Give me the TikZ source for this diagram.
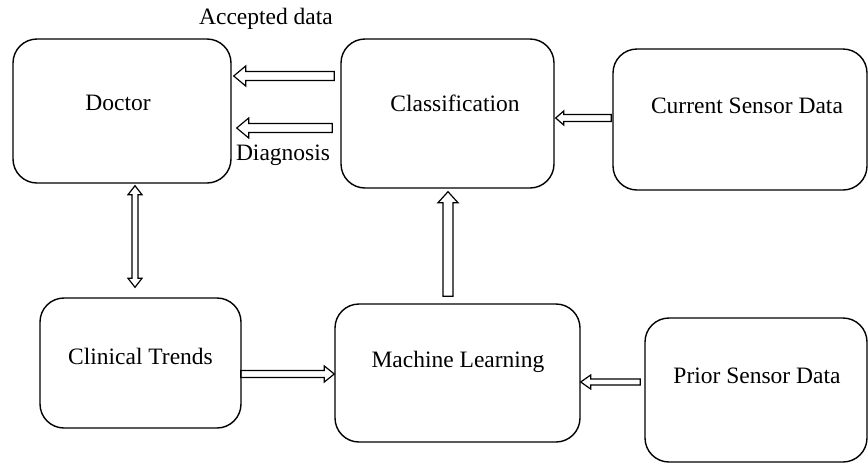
\documentclass[tikz,border=0pt]{standalone}
\usepackage{fontspec}
\setmainfont{Liberation Serif}
\usetikzlibrary{calc}
\begin{document}
\begin{tikzpicture}[x=1pt,y=-1pt,
  box/.style={draw, line width=1.4pt, rounded corners=24pt, inner sep=0pt},
  lbl/.style={font=\fontsize{23.5}{28}\selectfont, inner sep=0pt, anchor=center},
  blk/.style n args={3}{line width=1.2pt, line join=miter, to path={
    let \p1=($(\tikztotarget)!#3!(\tikztostart)$) in
    ($(\tikztostart)!#1!90:(\tikztotarget)$) --
    ($(\p1)!#1!90:(\tikztotarget)$) --
    ($(\p1)!#2!90:(\tikztotarget)$) --
    (\tikztotarget) --
    ($(\p1)!#2!-90:(\tikztotarget)$) --
    ($(\p1)!#1!-90:(\tikztotarget)$) --
    ($(\tikztostart)!#1!-90:(\tikztotarget)$) -- cycle}},
  dblk/.style n args={3}{line width=1.2pt, line join=miter, to path={
    let \p1=($(\tikztostart)!#3!(\tikztotarget)$),
        \p2=($(\tikztotarget)!#3!(\tikztostart)$) in
    (\tikztostart) --
    ($(\p1)!#2!90:(\tikztotarget)$) --
    ($(\p1)!#1!90:(\tikztotarget)$) --
    ($(\p2)!#1!90:(\tikztotarget)$) --
    ($(\p2)!#2!90:(\tikztotarget)$) --
    (\tikztotarget) --
    ($(\p2)!#2!-90:(\tikztotarget)$) --
    ($(\p2)!#1!-90:(\tikztotarget)$) --
    ($(\p1)!#1!-90:(\tikztotarget)$) --
    ($(\p1)!#2!-90:(\tikztotarget)$) -- cycle}}
]
\useasboundingbox[fill=white] (0,0) rectangle (868,464);
% boxes
\node[box, minimum width=218pt, minimum height=144pt] (doc) at (122,111) {};
\node[box, minimum width=213pt, minimum height=149pt] (cls) at (447.5,113.5) {};
\node[box, minimum width=254pt, minimum height=141pt] (cur) at (740,119.5) {};
\node[box, minimum width=201pt, minimum height=130pt] (cli) at (140.5,363) {};
\node[box, minimum width=245pt, minimum height=138pt] (ml) at (457.5,373) {};
\node[box, minimum width=222pt, minimum height=144pt] (pri) at (756,390) {};
% texts
\node[lbl] (tdoc) at (118,103) {Doctor};
\node[lbl] (tcls) at (455,103) {Classification};
\node[lbl] (tcur) at (747,106) {Current Sensor Data};
\node[lbl] (tcli) at (140.5,356) {Clinical Trends};
\node[lbl] (tml) at (458,362) {Machine Learning};
\node[lbl] (tpri) at (757,376) {Prior Sensor Data};
\node[lbl] (acc) at (266,19) {Accepted data};
\node[lbl] (dia) at (283,155) {Diagnosis};
% arrows
\draw[blk={4.5pt}{10pt}{12pt}] ([shift={(-6,-37.5)}]cls.west) to ([shift={(2,-35)}]doc.east);
\draw[blk={4.5pt}{10pt}{12pt}] ([shift={(-8,14.5)}]cls.west) to ([shift={(5,17)}]doc.east);
\draw[dblk={3pt}{7pt}{9pt}] ([shift={(13,2)}]doc.south) to ([shift={(-5.5,-10)}]cli.north);
\draw[blk={3.5pt}{8pt}{10pt}] ([shift={(-1,11)}]cli.east) to ([shift={(0,1)}]ml.west);
\draw[blk={5pt}{10pt}{11pt}] ([shift={(-9.5,-7)}]ml.north) to ([shift={(0.5,3)}]cls.south);
\draw[blk={3pt}{7pt}{10pt}] ([shift={(-4,-8)}]pri.west) to ([shift={(0,9)}]ml.east);
\draw[blk={3.5pt}{7pt}{8pt}] ([shift={(-1,-1.5)}]cur.west) to ([shift={(1,4.5)}]cls.east);
\end{tikzpicture}
\end{document}
